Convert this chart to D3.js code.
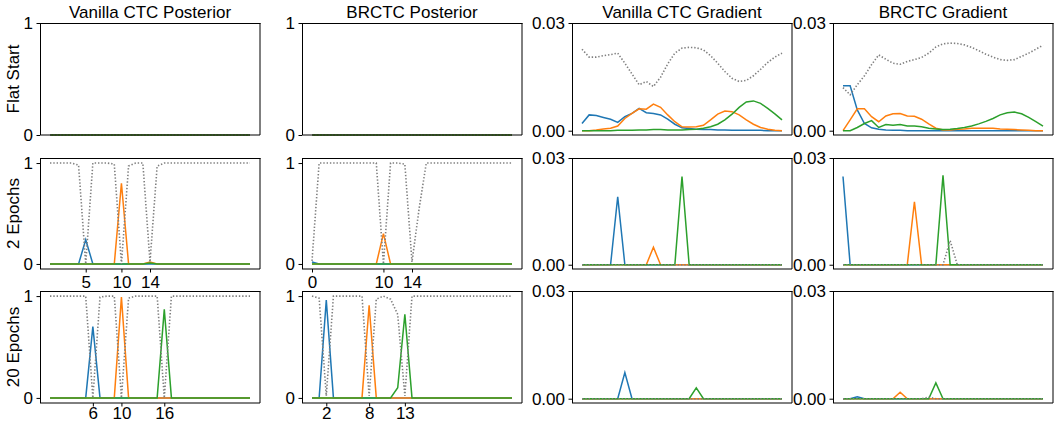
<!DOCTYPE html>
<html>
<head>
<meta charset="UTF-8">
<script src="https://d3js.org/d3.v7.min.js"></script>
<style>
  body { margin: 0; background: #fff; }
  svg text { font-family: "Liberation Sans", Arial, sans-serif; fill: #000; }
  .line { fill: none; stroke-width: 1.5; }
  .blank { fill: none; stroke: #7f7f7f; stroke-width: 1.6; stroke-dasharray: 1.4 1.9; }
</style>
</head>
<body>
<svg width="1060" height="423"></svg>
<script>
// frames (x categories)
const frames = [0,1,2,3,4,5,6,7,8,9,10,11,12,13,14,15,16,17,18,19,20,21,22,23,24,25,26,27,28];

const colTitles = ["Vanilla CTC Posterior", "BRCTC Posterior", "Vanilla CTC Gradient", "BRCTC Gradient"];
const rowLabels = ["Flat Start", "2 Epochs", "20 Epochs"];

// x tick labels on the posterior panels
const vanillaTicks2 = [5, 10, 14];
const brctcTicks2 = [0, 10, 14];
const vanillaTicks20 = [6, 10, 16];
const brctcTicks20 = [2, 8, 13];

// ---- Flat start ----
const flatPost = [0,0,0,0,0,0,0,0,0,0,0,0,0,0,0,0,0,0,0,0,0,0,0,0,0,0,0,0,0];

const vgFlatBlank = [0.0227,0.0205,0.0205,0.0209,0.0212,0.0216,0.0188,0.0158,0.0128,0.0137,0.0123,0.0149,0.0186,0.0216,0.0230,0.0232,0.0231,0.0225,0.0209,0.0188,0.0165,0.0146,0.0137,0.0140,0.0153,0.0171,0.0190,0.0205,0.0216];
const vgFlatBlue = [0.0020,0.0044,0.0042,0.0037,0.0032,0.0023,0.0039,0.0048,0.0062,0.0050,0.0048,0.0044,0.0032,0.0018,0.0008,0.0006,0.0004,0.0003,0.0003,0.0002,0.0002,0.0001,0.0001,0.0001,0.0001,0.0001,0,0,0];
const vgFlatOrange = [0,0,0.0002,0.0005,0.0007,0.0013,0.0034,0.0048,0.0061,0.0060,0.0074,0.0065,0.0044,0.0025,0.0011,0.0010,0.0011,0.0015,0.0030,0.0046,0.0055,0.0053,0.0044,0.0030,0.0018,0.0009,0.0004,0.0001,0];
const vgFlatGreen = [0,0,0,0,0,0.0001,0.0001,0.0001,0.0002,0.0002,0.0003,0.0003,0.0002,0.0002,0.0002,0.0003,0.0004,0.0007,0.0011,0.0018,0.0030,0.0046,0.0065,0.0080,0.0083,0.0076,0.0062,0.0047,0.0030];

const bgFlatBlank = [0.0120,0.0100,0.0128,0.0153,0.0184,0.0211,0.0199,0.0188,0.0185,0.0193,0.0198,0.0204,0.0216,0.0233,0.0242,0.0244,0.0243,0.0239,0.0232,0.0223,0.0213,0.0205,0.0198,0.0196,0.0198,0.0207,0.0216,0.0227,0.0238];
const bgFlatBlue = [0.0125,0.0125,0.0058,0.0020,0.0008,0.0004,0.0002,0.0001,0.0001,0,0,0,0,0,0,0,0,0,0,0,0,0,0,0,0,0,0,0,0];
const bgFlatOrange = [0,0.0030,0.0061,0.0061,0.0039,0.0025,0.0041,0.0047,0.0048,0.0041,0.0040,0.0032,0.0019,0.0007,0.0002,0.0002,0.0004,0.0005,0.0007,0.0007,0.0007,0.0007,0.0005,0.0004,0.0003,0.0002,0.0001,0,0];
const bgFlatGreen = [0,0,0.0009,0.0020,0.0028,0.0009,0.0017,0.0015,0.0017,0.0013,0.0013,0.0011,0.0007,0.0005,0.0003,0.0004,0.0006,0.0009,0.0013,0.0019,0.0026,0.0034,0.0044,0.0050,0.0052,0.0047,0.0037,0.0025,0.0013];

// ---- 2 epochs ----
const vp2Blank = [1,1,1,1,0.98,0,1,1,1,0.99,0,0.97,1,1,0.02,0.97,1,1,1,1,1,1,1,1,1,1,1,1,1];
const vp2Blue = [0,0,0,0,0,0.24,0,0,0,0,0,0,0,0,0,0,0,0,0,0,0,0,0,0,0,0,0,0,0];
const vp2Orange = [0,0,0,0,0,0,0,0,0,0,0.80,0,0,0,0.02,0,0,0,0,0,0,0,0,0,0,0,0,0,0];
const vp2Green = [0,0,0,0,0,0,0,0,0,0,0,0,0,0,0.01,0,0,0,0,0,0,0,0,0,0,0,0,0,0];

const bp2Blank = [0.03,1,1,1,1,1,1,1,1,1,0,1,1,0.99,0.02,0.55,1,1,1,1,1,1,1,1,1,1,1,1,1];
const bp2Blue = [0.02,0,0,0,0,0,0,0,0,0,0,0,0,0,0,0,0,0,0,0,0,0,0,0,0,0,0,0,0];
const bp2Orange = [0,0,0,0,0,0,0,0,0,0,0.30,0,0,0,0,0,0,0,0,0,0,0,0,0,0,0,0,0,0];
const bp2Green = [0,0,0,0,0,0,0,0,0,0,0,0,0,0,0,0,0,0,0,0,0,0,0,0,0,0,0,0,0];

const vg2Blank = [0,0,0,0,0,0,0,0,0,0,0,0,0,0,0,0,0,0,0,0,0,0,0,0,0,0,0,0,0];
const vg2Blue = [0,0,0,0,0,0.0191,0,0,0,0,0,0,0,0,0,0,0,0,0,0,0,0,0,0,0,0,0,0,0];
const vg2Orange = [0,0,0,0,0,0,0,0,0,0,0.0049,0,0,0,0,0,0,0,0,0,0,0,0,0,0,0,0,0,0];
const vg2Green = [0,0,0,0,0,0,0,0,0,0,0,0,0,0,0.0248,0,0,0,0,0,0,0,0,0,0,0,0,0,0];

const bg2Blank = [0,0,0,0,0,0,0,0,0,0,0,0,0,0,0,0.0068,0,0,0,0,0,0,0,0,0,0,0,0,0];
const bg2Blue = [0.0248,0,0,0,0,0,0,0,0,0,0,0,0,0,0,0,0,0,0,0,0,0,0,0,0,0,0,0,0];
const bg2Orange = [0,0,0,0,0,0,0,0,0,0,0.0177,0,0,0,0,0,0,0,0,0,0,0,0,0,0,0,0,0,0];
const bg2Green = [0,0,0,0,0,0,0,0,0,0,0,0,0,0,0.0251,0,0,0,0,0,0,0,0,0,0,0,0,0,0];

// ---- 20 epochs ----
const vp20Blank = [1,1,1,1,1,1,0,0.99,1,1,0,0.98,1,1,1,1,0,1,1,1,1,1,1,1,1,1,1,1,1];
const vp20Blue = [0,0,0,0,0,0,0.70,0,0,0,0,0,0,0,0,0,0,0,0,0,0,0,0,0,0,0,0,0,0];
const vp20Orange = [0,0,0,0,0,0,0,0,0,0,0.99,0,0,0,0,0,0,0,0,0,0,0,0,0,0,0,0,0,0];
const vp20Green = [0,0,0,0,0,0,0,0,0,0,0,0,0,0,0,0,0.87,0,0,0,0,0,0,0,0,0,0,0,0];

const bp20Blank = [1,0.98,0.02,1,1,1,1,1,0.02,0.97,1,0.97,0.82,0.02,1,1,1,1,1,1,1,1,1,1,1,1,1,1,1];
const bp20Blue = [0,0,0.96,0,0,0,0,0,0,0,0,0,0,0,0,0,0,0,0,0,0,0,0,0,0,0,0,0,0];
const bp20Orange = [0,0,0,0,0,0,0,0,0.91,0,0,0,0,0,0,0,0,0,0,0,0,0,0,0,0,0,0,0,0];
const bp20Green = [0,0,0,0,0,0,0,0,0,0,0,0,0.10,0.82,0,0,0,0,0,0,0,0,0,0,0,0,0,0,0];

const vg20Blank = [0,0,0,0,0,0,0,0,0,0,0,0,0,0,0,0,0,0,0,0,0,0,0,0,0,0,0,0,0];
const vg20Blue = [0,0,0,0,0,0,0.0073,0,0,0,0,0,0,0,0,0,0,0,0,0,0,0,0,0,0,0,0,0,0];
const vg20Orange = [0,0,0,0,0,0,0,0,0,0,0,0,0,0,0,0,0,0,0,0,0,0,0,0,0,0,0,0,0];
const vg20Green = [0,0,0,0,0,0,0,0,0,0,0,0,0,0,0,0,0.0030,0,0,0,0,0,0,0,0,0,0,0,0];

const bg20Blank = [0,0,0,0,0,0,0,0,0,0,0,0,0.0004,0,0,0,0,0,0,0,0,0,0,0,0,0,0,0,0];
const bg20Blue = [0,0,0.0005,0,0,0,0,0,0,0,0,0,0,0,0,0,0,0,0,0,0,0,0,0,0,0,0,0,0];
const bg20Orange = [0,0,0,0,0,0,0,0,0.0018,0,0,0,0,0,0,0,0,0,0,0,0,0,0,0,0,0,0,0,0];
const bg20Green = [0,0,0,0,0,0,0,0,0,0,0,0,0,0.0044,0,0,0,0,0,0,0,0,0,0,0,0,0,0,0];

// layout
const colLeft = [40, 302, 572, 833];
const rowTop = [23, 158, 291];
const rowBottom = [135, 269, 403];
const panelW = 220;
const colors = {blue: "#1f77b4", orange: "#ff7f0e", green: "#2ca02c"};

const panels = [
  {r: 0, c: 0, kind: "post", flat: true, s: [flatPost, flatPost, flatPost, flatPost]},
  {r: 0, c: 1, kind: "post", flat: true, s: [flatPost, flatPost, flatPost, flatPost]},
  {r: 0, c: 2, kind: "grad", s: [vgFlatBlank, vgFlatBlue, vgFlatOrange, vgFlatGreen]},
  {r: 0, c: 3, kind: "grad", s: [bgFlatBlank, bgFlatBlue, bgFlatOrange, bgFlatGreen]},
  {r: 1, c: 0, kind: "post", ticks: vanillaTicks2, s: [vp2Blank, vp2Blue, vp2Orange, vp2Green]},
  {r: 1, c: 1, kind: "post", ticks: brctcTicks2, s: [bp2Blank, bp2Blue, bp2Orange, bp2Green]},
  {r: 1, c: 2, kind: "grad", s: [vg2Blank, vg2Blue, vg2Orange, vg2Green]},
  {r: 1, c: 3, kind: "grad", s: [bg2Blank, bg2Blue, bg2Orange, bg2Green]},
  {r: 2, c: 0, kind: "post", ticks: vanillaTicks20, s: [vp20Blank, vp20Blue, vp20Orange, vp20Green]},
  {r: 2, c: 1, kind: "post", ticks: brctcTicks20, s: [bp20Blank, bp20Blue, bp20Orange, bp20Green]},
  {r: 2, c: 2, kind: "grad", s: [vg20Blank, vg20Blue, vg20Orange, vg20Green]},
  {r: 2, c: 3, kind: "grad", s: [bg20Blank, bg20Blue, bg20Orange, bg20Green]}
];

const svg = d3.select("svg");
svg.append("rect").attr("width", 1060).attr("height", 423).attr("fill", "#fff");

panels.forEach(p => {
  const x0 = colLeft[p.c], x1 = x0 + panelW;
  const y0 = rowTop[p.r], y1 = rowBottom[p.r];
  const g = svg.append("g");

  const x = d3.scaleLinear().domain([-1.4, 29.4]).range([x0, x1]);
  let y;
  if (p.kind === "grad") y = d3.scaleLinear().domain([-0.0012, 0.03]).range([y1, y0]);
  else if (p.flat) y = d3.scaleLinear().domain([0, 1]).range([y1, y0]);
  else y = d3.scaleLinear().domain([-0.05, 1.05]).range([y1, y0]);

  const line = d3.line().x((d, i) => x(frames[i])).y(d => y(d));
  const names = ["blue", "orange", "green"];
  names.forEach((n, k) => {
    g.append("path").datum(p.s[k + 1]).attr("class", "line")
      .attr("stroke", colors[n]).attr("d", line);
  });
  g.append("path").datum(p.s[0]).attr("class", "blank").attr("d", line);

  // spines: top/left crisp, right/bottom soft
  g.append("line").attr("x1", x0).attr("x2", x1 + 0.5).attr("y1", y0 + 0.5).attr("y2", y0 + 0.5).attr("stroke", "#000");
  g.append("line").attr("x1", x0 + 0.5).attr("x2", x0 + 0.5).attr("y1", y0).attr("y2", y1).attr("stroke", "#000");
  g.append("line").attr("x1", x1).attr("x2", x1).attr("y1", y0).attr("y2", y1).attr("stroke", "#000");
  g.append("line").attr("x1", x0).attr("x2", x1).attr("y1", y1).attr("y2", y1).attr("stroke", "#000");

  const yAxis = d3.axisLeft(y)
    .tickValues(p.kind === "grad" ? [0, 0.03] : [0, 1])
    .tickFormat(p.kind === "grad" ? d3.format(".2f") : d3.format("d"))
    .tickSize(3.5).tickPadding(3.5);
  const ya = g.append("g").attr("transform", `translate(${x0},0)`).call(yAxis);
  ya.select(".domain").remove();
  ya.selectAll("text").style("font-size", "17px").style("font-family", null);

  if (p.ticks) {
    // bottom row sits close to the page edge, so its labels get less padding
    const xAxis = d3.axisBottom(x).tickValues(p.ticks).tickFormat(d3.format("d"))
      .tickSize(3.5).tickPadding(p.r === 2 ? 0.5 : 3.5);
    const xa = g.append("g").attr("transform", `translate(0,${y1})`).call(xAxis);
    xa.select(".domain").remove();
    xa.selectAll("text").style("font-size", "17px").style("font-family", null);
  }

  if (p.r === 0) {
    svg.append("text").attr("x", x0 + panelW / 2).attr("y", 18)
      .attr("text-anchor", "middle").style("font-size", "17px").text(colTitles[p.c]);
  }
  if (p.c === 0) {
    svg.append("text")
      .attr("transform", `translate(19,${(y0 + y1) / 2}) rotate(-90)`)
      .attr("text-anchor", "middle").style("font-size", "17px").text(rowLabels[p.r]);
  }
});
</script>
</body>
</html>
